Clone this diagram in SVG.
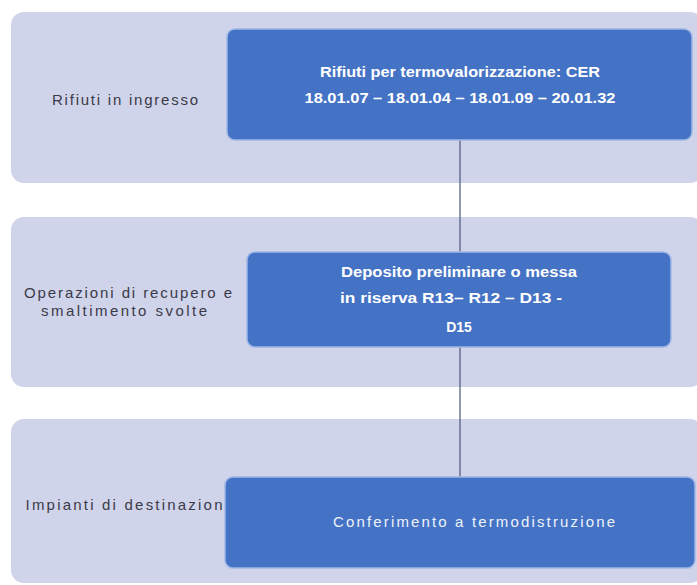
<svg xmlns="http://www.w3.org/2000/svg" width="697" height="585" viewBox="0 0 697 585">
<style>
.band{fill:#d0d4ea;}
.node{fill:#4472c4;stroke:#9db6e6;stroke-width:1.5;}
.lbl{font-family:"Liberation Sans",Arial,sans-serif;font-size:15px;fill:#3a3a48;text-anchor:middle;}
.nt{font-family:"Liberation Sans",Arial,sans-serif;font-size:14px;font-weight:bold;fill:#ffffff;text-anchor:middle;}
.nt2{font-family:"Liberation Sans",Arial,sans-serif;font-size:15px;fill:#eef2fb;text-anchor:middle;}
.conn{stroke:#4a5878;stroke-width:1.2;fill:none;}
</style>
<rect width="697" height="585" fill="#ffffff"/>
<g id="band1"><rect class="band" x="11" y="12" width="692" height="171" rx="13"/>
<text class="lbl" x="125" y="105" textLength="146" lengthAdjust="spacing">Rifiuti in ingresso</text></g>
<g id="band2"><rect class="band" x="11" y="217" width="692" height="170" rx="13"/>
<text class="lbl" x="128" y="298" textLength="208" lengthAdjust="spacing">Operazioni di recupero e</text>
<text class="lbl" x="124" y="316" textLength="166" lengthAdjust="spacing">smaltimento svolte</text></g>
<g id="band3"><rect class="band" x="11" y="419" width="692" height="164" rx="13"/>
<text class="lbl" x="124" y="510" textLength="197" lengthAdjust="spacing">Impianti di destinazion</text></g>
<g id="connectors">
<line class="conn" x1="460" y1="140" x2="460" y2="252"/>
<line class="conn" x1="460" y1="347" x2="460" y2="477"/>
</g>
<g id="node1"><rect class="node" x="227" y="29" width="465" height="111" rx="8"/>
<text class="nt" x="460" y="77" textLength="280" lengthAdjust="spacingAndGlyphs">Rifiuti per termovalorizzazione: CER</text>
<text class="nt" x="460" y="103" textLength="311" lengthAdjust="spacingAndGlyphs">18.01.07 – 18.01.04 – 18.01.09 – 20.01.32</text></g>
<g id="node2"><rect class="node" x="247" y="252" width="424" height="95" rx="8"/>
<text class="nt" x="459" y="277" textLength="236" lengthAdjust="spacingAndGlyphs">Deposito preliminare o messa</text>
<text class="nt" x="451" y="303" textLength="222" lengthAdjust="spacingAndGlyphs">in riserva R13– R12 – D13 -</text>
<text class="nt" x="459" y="332">D15</text></g>
<g id="node3"><rect class="node" x="225" y="477" width="470" height="91" rx="8"/>
<text class="nt2" x="474" y="527" textLength="282" lengthAdjust="spacing">Conferimento a termodistruzione</text></g>
</svg>
